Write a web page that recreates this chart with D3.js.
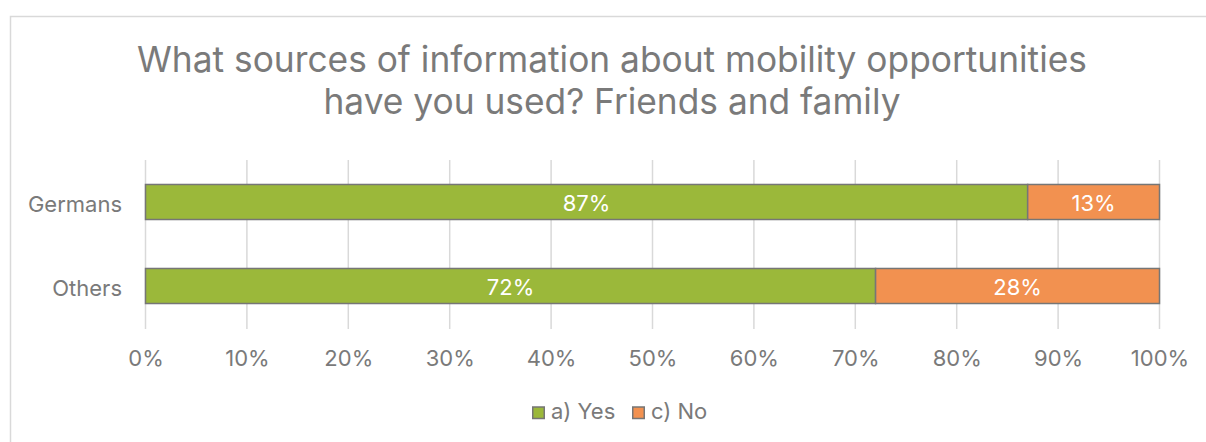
<!DOCTYPE html>
<html>
<head>
<meta charset="utf-8">
<script src="https://cdn.jsdelivr.net/npm/d3@7"></script>
<style>
  html, body { margin: 0; padding: 0; background: #ffffff; }
  svg { display: block; }
  text { font-family: "Inter", "Liberation Sans", sans-serif; }
</style>
</head>
<body>
<svg id="chart" width="1206" height="442"></svg>
<script>
// Survey groups and answer shares (percent)
const categories = ["Germans", "Others"];
const seriesNames = ["a) Yes", "c) No"];
const yesValues = [87, 72];
const noValues = [13, 28];
const tickValues = [0, 10, 20, 30, 40, 50, 60, 70, 80, 90, 100];
const titleLines = [
  "What sources of information about mobility opportunities",
  "have you used? Friends and family"
];

const colors = ["#9bb83a", "#f29150"];
const textGray = "#7a7a7a";
const gridGray = "#d9d9d9";
const barStroke = "#767676";
const labelSize = 22;

const svg = d3.select("#chart");
const W = 1206, H = 442;

// chart frame
svg.append("rect")
  .attr("x", 10.5).attr("y", 16.5)
  .attr("width", W + 20).attr("height", H + 20)
  .attr("fill", "#ffffff")
  .attr("stroke", gridGray)
  .attr("stroke-width", 1.5);

// title
const title = svg.append("g");
titleLines.forEach((line, i) => {
  title.append("text")
    .attr("x", 612)
    .attr("y", 72 + i * 42)
    .attr("text-anchor", "middle")
    .attr("font-size", 35.3)
    .attr("fill", textGray)
    .text(line);
});

// scales
const x = d3.scaleLinear().domain([0, 100]).range([145.5, 1159.5]);
const y = d3.scaleBand().domain(categories).range([160, 328])
  .paddingInner(0.583).paddingOuter(0.2915);

// vertical gridlines
svg.append("g")
  .selectAll("line")
  .data(tickValues)
  .join("line")
  .attr("x1", d => x(d)).attr("x2", d => x(d))
  .attr("y1", 160).attr("y2", 329)
  .attr("stroke", gridGray)
  .attr("stroke-width", 1.5);

// x axis labels
const xAxis = d3.axisBottom(x)
  .tickValues(tickValues)
  .tickFormat(d => d + "%")
  .tickSize(0)
  .tickPadding(0);
const gx = svg.append("g")
  .attr("transform", "translate(0,366)")
  .call(xAxis);
gx.select(".domain").remove();
gx.selectAll("text")
  .attr("dy", 0)
  .attr("y", 0)
  .attr("font-size", labelSize)
  .attr("font-family", "Inter, 'Liberation Sans', sans-serif")
  .attr("fill", textGray);

// y axis labels
const yAxis = d3.axisLeft(y).tickSize(0).tickPadding(0);
const gy = svg.append("g")
  .attr("transform", "translate(122,0)")
  .call(yAxis);
gy.select(".domain").remove();
gy.selectAll("text")
  .attr("x", 0)
  .attr("dy", "0.44em")
  .attr("font-size", labelSize)
  .attr("font-family", "Inter, 'Liberation Sans', sans-serif")
  .attr("fill", textGray);

// stacked series
const rows = categories.map((c, i) => ({ cat: c, yes: yesValues[i], no: noValues[i] }));
const stack = d3.stack().keys(["yes", "no"]);
const layers = stack(rows);

const bars = svg.append("g");
layers.forEach((layer, li) => {
  const g = bars.append("g");
  g.selectAll("rect")
    .data(layer)
    .join("rect")
    .attr("x", d => x(d[0]))
    .attr("y", d => y(d.data.cat))
    .attr("width", d => x(d[1]) - x(d[0]))
    .attr("height", y.bandwidth())
    .attr("fill", colors[li])
    .attr("stroke", barStroke)
    .attr("stroke-width", 1.5);
  g.selectAll("text")
    .data(layer)
    .join("text")
    .attr("x", d => (x(d[0]) + x(d[1])) / 2)
    .attr("y", d => y(d.data.cat) + y.bandwidth() / 2)
    .attr("dy", "0.4em")
    .attr("text-anchor", "middle")
    .attr("font-size", labelSize)
    .attr("fill", "#ffffff")
    .text(d => (d[1] - d[0]) + "%");
});

// legend
const legend = svg.append("g").attr("transform", "translate(532,419)");
const legendX = [0, 100];
seriesNames.forEach((name, i) => {
  const item = legend.append("g").attr("transform", `translate(${legendX[i]},0)`);
  item.append("rect")
    .attr("x", 0.75).attr("y", -12)
    .attr("width", 11.5).attr("height", 11.5)
    .attr("fill", colors[i])
    .attr("stroke", barStroke)
    .attr("stroke-width", 1.5);
  item.append("text")
    .attr("x", 19)
    .attr("y", 0)
    .attr("font-size", labelSize)
    .attr("fill", textGray)
    .text(name);
});
</script>
</body>
</html>
